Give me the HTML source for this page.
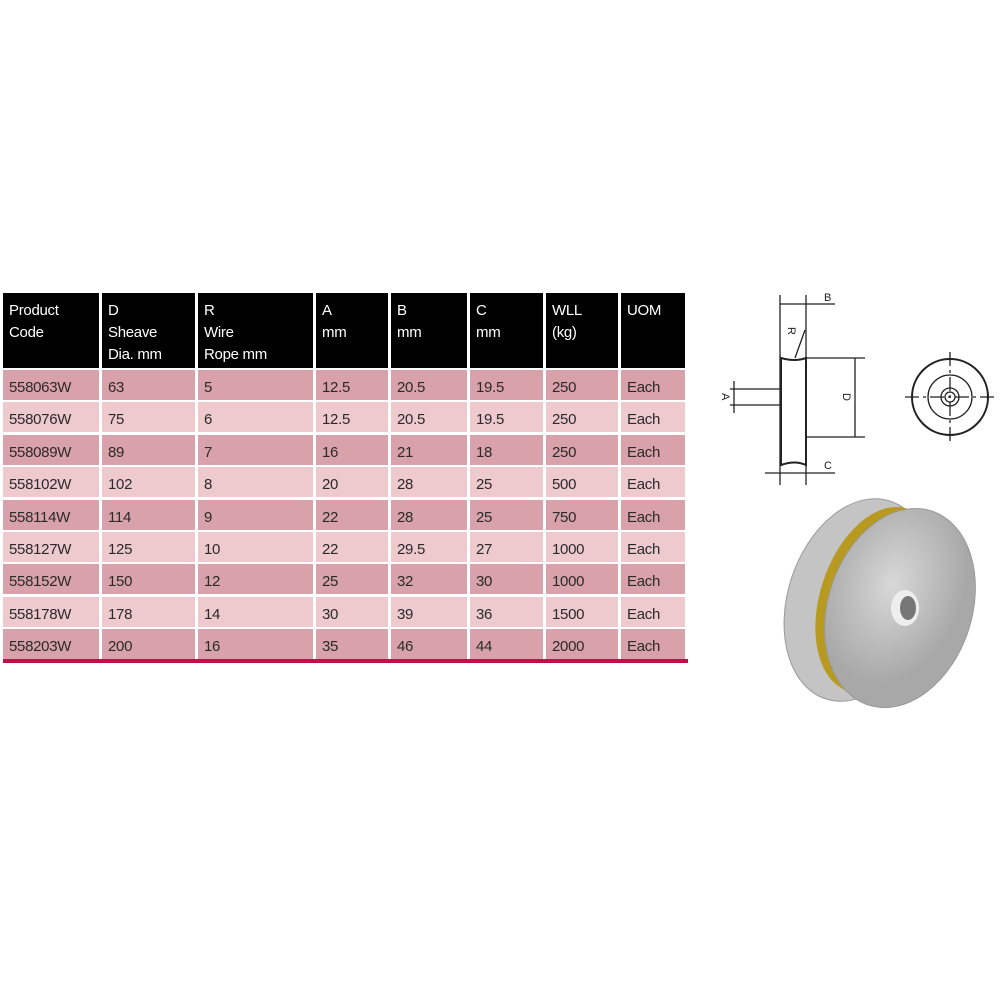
<!DOCTYPE html>
<html><head><meta charset="utf-8"><style>
body{margin:0;width:1000px;height:1000px;background:#fff;position:relative;overflow:hidden;font-family:"Liberation Sans",sans-serif;}
.c{position:absolute;box-sizing:border-box;padding-left:6px;font-size:15px;letter-spacing:-0.3px;}
.h{background:#000;color:#fff;line-height:22px;padding-top:7px;}
.d{color:#2a2a2a;line-height:30px;padding-top:3px;}
.r0{background:#d9a1a9}
.r1{background:#eec9ce}
</style></head><body>
<div id="t"></div>
<div style="position:absolute;left:3px;top:659px;width:685px;height:4px;background:#c0104a"></div>
<svg style="position:absolute;left:0;top:0" width="1000" height="1000">
<g stroke="#222" fill="none" stroke-width="1.3">
<line x1="780" y1="295" x2="780" y2="485"/><line x1="806" y1="295" x2="806" y2="485"/>
<line x1="780" y1="304" x2="835" y2="304"/>
<path d="M781 358 Q795 362 806 358 L806 465 Q795 460 781 465 Z" stroke-width="2"/>
<line x1="795" y1="358" x2="805" y2="330"/>
<line x1="806" y1="358" x2="865" y2="358"/><line x1="806" y1="437" x2="865" y2="437"/>
<line x1="855" y1="358" x2="855" y2="437"/>
<line x1="730" y1="389" x2="781" y2="389"/><line x1="730" y1="405" x2="781" y2="405"/>
<line x1="734" y1="381" x2="734" y2="413"/>
<line x1="765" y1="473" x2="835" y2="473"/>
<circle cx="950" cy="397" r="38" stroke-width="2"/><circle cx="950" cy="397" r="22"/><circle cx="950" cy="397" r="9"/><circle cx="950" cy="397" r="5"/>
<line x1="905" y1="397" x2="997" y2="397" stroke-dasharray="14 4 3 4"/><line x1="950" y1="352" x2="950" y2="444" stroke-dasharray="14 4 3 4"/>
</g>
<g font-size="11" fill="#222" font-family="Liberation Sans"><text x="824" y="301">B</text><text x="824" y="469">C</text><text x="790" y="335" transform="rotate(90 793 330)">R</text><text x="842" y="400" transform="rotate(90 846 397)">D</text><text x="722" y="401" transform="rotate(90 726 397)">A</text></g>
<defs><radialGradient id="g" cx="0.4" cy="0.4"><stop offset="0" stop-color="#d8d8d8"/><stop offset="1" stop-color="#a8a8a8"/></radialGradient></defs>
<ellipse cx="858" cy="600" rx="70" ry="104" transform="rotate(18 858 600)" fill="#c4c4c4" stroke="#999"/>
<ellipse cx="878" cy="600" rx="58" ry="96" transform="rotate(18 878 600)" fill="#b89a20"/>
<ellipse cx="900" cy="608" rx="72" ry="102" transform="rotate(18 900 608)" fill="url(#g)" stroke="#999"/>
<ellipse cx="905" cy="608" rx="14" ry="18" fill="#eee"/><ellipse cx="908" cy="608" rx="8" ry="12" fill="#777"/>
</svg>
<script>
var cols=[3,102,198,316,391,470,546,621,688];
var hd=["Product<br>Code","D<br>Sheave<br>Dia. mm","R<br>Wire<br>Rope mm","A<br>mm","B<br>mm","C<br>mm","WLL<br>(kg)","UOM"];
var rows=[["558063W",63,5,12.5,20.5,19.5,250],["558076W",75,6,12.5,20.5,19.5,250],["558089W",89,7,16,21,18,250],["558102W",102,8,20,28,25,500],["558114W",114,9,22,28,25,750],["558127W",125,10,22,29.5,27,1000],["558152W",150,12,25,32,30,1000],["558178W",178,14,30,39,36,1500],["558203W",200,16,35,46,44,2000]];
var h="";
for(var j=0;j<8;j++){var w=cols[j+1]-cols[j]-3;
h+='<div class="c h" style="left:'+cols[j]+'px;top:293px;width:'+w+'px;height:75px">'+hd[j]+'</div>';
for(var i=0;i<9;i++){var v=j==7?"Each":rows[i][j];
h+='<div class="c d r'+(i%2)+'" style="left:'+cols[j]+'px;top:'+(370+i*32.4)+'px;width:'+w+'px;height:30px">'+v+'</div>';}}
document.getElementById("t").innerHTML=h;
</script>
</body></html>
